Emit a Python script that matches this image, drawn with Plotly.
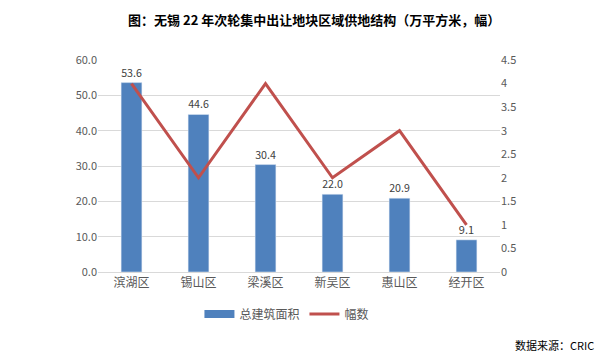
import plotly.graph_objects as go

categories = ["滨湖区", "锡山区", "梁溪区", "新吴区", "惠山区", "经开区"]
area = [53.6, 44.6, 30.4, 22.0, 20.9, 9.1]
counts = [4, 2, 4, 2, 3, 1]

font_cjk = "Noto Sans CJK SC"
bar_color = "#4f81bd"
line_color = "#c0504d"

fig = go.Figure()
fig.add_trace(go.Bar(
    x=categories, y=area, name="总建筑面积", showlegend=False,
    marker=dict(color=bar_color),
    text=[f"{v:.1f}" for v in area], textposition="outside",
    textfont=dict(size=11, color="#404040", family=font_cjk),
    cliponaxis=False, width=0.31,
))
# legend-only entry to mimic the wide rectangular bar swatch
fig.add_trace(go.Scatter(
    x=[None], y=[None], name="总建筑面积", mode="lines",
    line=dict(color=bar_color, width=8),
))
fig.add_trace(go.Scatter(
    x=categories, y=counts, name="幅数", yaxis="y2",
    mode="lines", line=dict(color=line_color, width=3),
))

fig.update_layout(
    width=603, height=363,
    paper_bgcolor="white", plot_bgcolor="white",
    margin=dict(l=98, r=103, t=60, b=91),
    title=dict(text="<b>图：无锡 22 年次轮集中出让地块区域供地结构（万平方米，幅）</b>",
               x=0.521, xanchor="center", y=0.945, yanchor="middle",
               font=dict(size=13, color="#000000", family=font_cjk)),
    font=dict(family=font_cjk, size=11, color="#595959"),
    xaxis=dict(showgrid=False, showline=True, linecolor="#d9d9d9", linewidth=1,
               ticks="", tickfont=dict(size=12, color="#595959")),
    yaxis=dict(range=[0, 60], dtick=10, tickformat=".1f", showgrid=True,
               gridcolor="#d9d9d9", gridwidth=1, zeroline=False,
               ticks="", tickfont=dict(size=11, color="#595959")),
    yaxis2=dict(range=[0, 4.5], dtick=0.5, overlaying="y", side="right",
                showgrid=False, zeroline=False, ticks="",
                tickfont=dict(size=11, color="#595959")),
    legend=dict(orientation="h", x=0.47, xanchor="center", y=-0.13, yanchor="top",
                font=dict(size=12, color="#595959"), itemwidth=30),
    showlegend=True,
)
fig.add_annotation(text="数据来源：CRIC", xref="paper", yref="paper",
                   x=1.0, xanchor="left", xshift=13, y=0, yshift=-73, yanchor="middle",
                   showarrow=False, font=dict(size=11, color="#000000", family=font_cjk))

fig.write_html("out.html", config={"displayModeBar": False},
               post_script="document.body.style.margin='0';")
